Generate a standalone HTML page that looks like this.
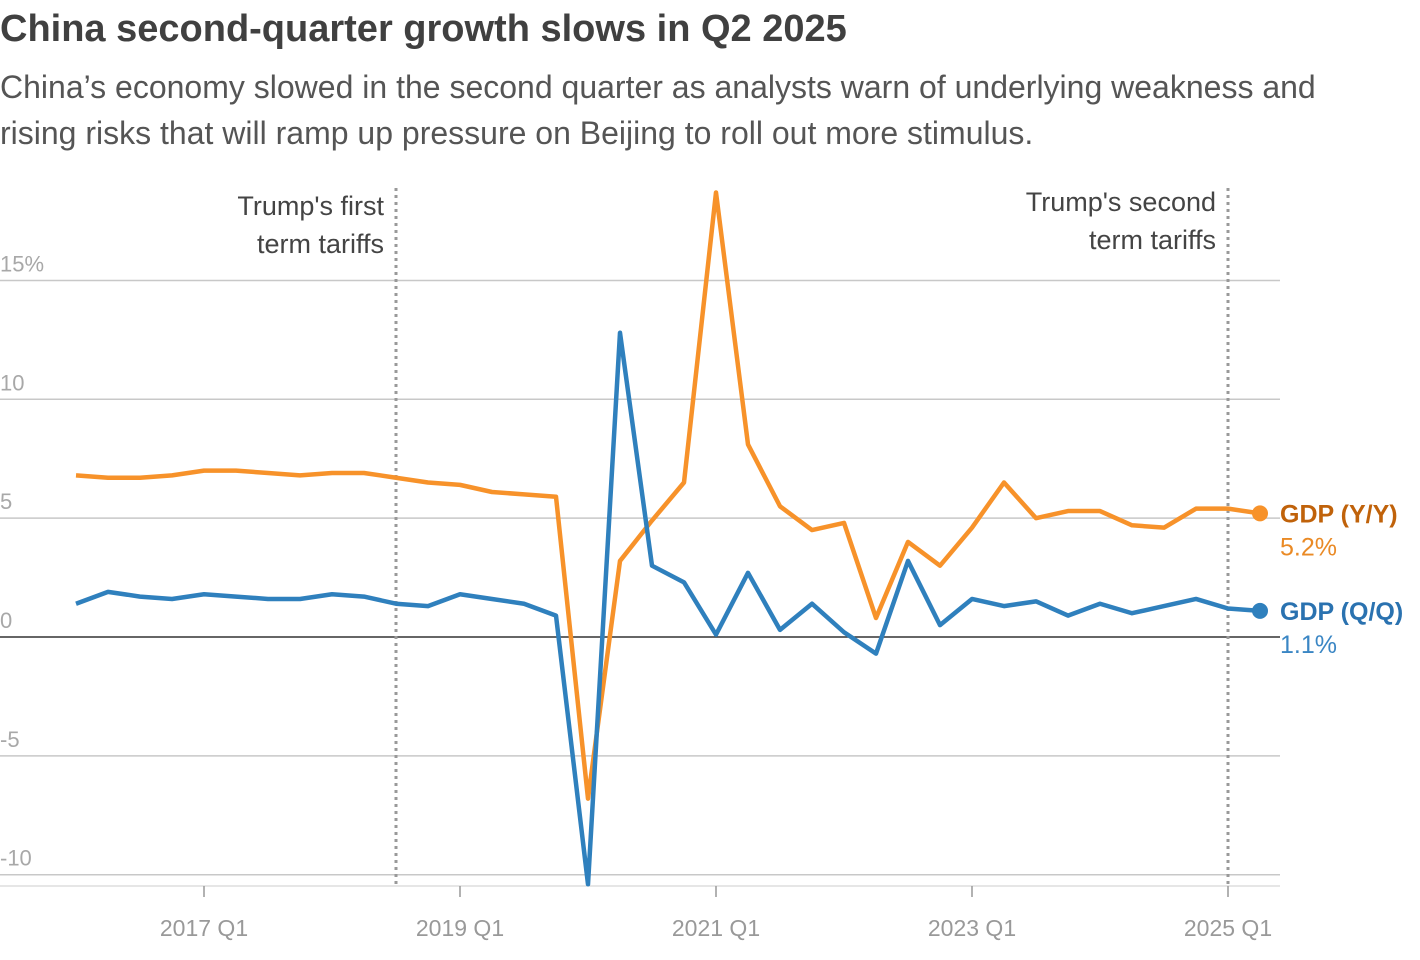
<!DOCTYPE html>
<html><head><meta charset="utf-8"><style>
body{margin:0;background:#fff;font-family:"Liberation Sans",sans-serif;}
#wrap{position:relative;width:1420px;height:960px;overflow:hidden;}
.t{position:absolute;white-space:nowrap;}
</style></head><body>
<div id="wrap">
<div class="t" style="left:0;top:8px;font-size:38px;font-weight:bold;color:#404040;">China second-quarter growth slows in Q2 2025</div>
<div class="t" style="left:0;top:64px;font-size:32px;line-height:46px;color:#555;">China’s economy slowed in the second quarter as analysts warn of underlying weakness and<br>rising risks that will ramp up pressure on Beijing to roll out more stimulus.</div>
<svg id="chart" width="1420" height="960" style="position:absolute;left:0;top:0"></svg>
</div>
<script>
const years=[2016,2017,2018,2019,2020,2021,2022,2023,2024,2025];
const yoy=[6.8,6.7,6.7,6.8, 7.0,7.0,6.9,6.8, 6.9,6.9,6.7,6.5, 6.4,6.1,6.0,5.9, -6.8,3.2,4.9,6.5, 18.7,8.1,5.5,4.5, 4.8,0.8,4.0,3.0, 4.6,6.5,5.0,5.3, 5.3,4.7,4.6,5.4, 5.4,5.2];
const qoq=[1.4,1.9,1.7,1.6, 1.8,1.7,1.6,1.6, 1.8,1.7,1.4,1.3, 1.8,1.6,1.4,0.9, -10.4,12.8,3.0,2.3, 0.1,2.7,0.3,1.4, 0.2,-0.7,3.2,0.5, 1.6,1.3,1.5,0.9, 1.4,1.0,1.3,1.6, 1.2,1.1];
const yTicks=[15,10,5,0,-5,-10];
const yTickLabels=["15%","10","5","0","-5","-10"];
const xTickYears=[2017,2019,2021,2023,2025];
const svg=document.getElementById('chart');
const NS='http://www.w3.org/2000/svg';
const x=i=>76+i*(1260-76)/37;
const xq=(yr,q)=>x((yr-2016)*4+(q-1));
const y=v=>637-v*23.77;
function mk(t,a,p){const e=document.createElementNS(NS,t);for(const k in a)e.setAttribute(k,a[k]);(p||svg).appendChild(e);return e;}
yTicks.forEach((v,i)=>{
 if(v!==0){const g=mk('line',{x1:0,x2:1280,y1:y(v),y2:y(v),stroke:'#c8c8c8','stroke-width':1.5});
 
 }
 const t=mk('text',{x:0,y:y(v)-9,'font-size':22,fill:'#a8a8a8','font-family':'Liberation Sans'});
 t.textContent=yTickLabels[i];
 
 
});
const ax=mk('line',{x1:0,x2:1280,y1:y(0),y2:y(0),stroke:'#333','stroke-width':1.5});


const xa=mk('line',{x1:0,x2:1280,y1:886,y2:886,stroke:'#ccc','stroke-width':1});


xTickYears.forEach(yr=>{
 const px=xq(yr,1);
 const tk=mk('line',{x1:px,x2:px,y1:886,y2:897,stroke:'#999','stroke-width':1.5});
 
 
 const t=mk('text',{x:px,y:936,'font-size':23,fill:'#999','text-anchor':'middle','font-family':'Liberation Sans'});
 t.textContent=yr+' Q1';
 
 
});
[[xq(2018,3),["Trump's first","term tariffs"],215,'annotation-first-term'],[xq(2025,1),["Trump's second","term tariffs"],211,'annotation-second-term']].forEach(a=>{
 const l=mk('line',{x1:a[0],x2:a[0],y1:188,y2:886,stroke:'#999','stroke-width':3,'stroke-dasharray':'3,4'});
 
 
 a[1].forEach((s,j)=>{const t=mk('text',{x:a[0]-12,y:a[2]+j*38,'font-size':27,fill:'#444','text-anchor':'end','font-family':'Liberation Sans'});
 t.textContent=s;
 
 });
});
function series(data,col,name){
 const p=mk('polyline',{points:data.map((v,i)=>x(i)+','+y(v)).join(' '),fill:'none',stroke:col,'stroke-width':4.5,'stroke-linejoin':'round'});
 
 
 const c=mk('circle',{cx:x(data.length-1),cy:y(data[data.length-1]),r:8,fill:col});
 
 
}
series(yoy,'#f7922a','gdp-yoy');
series(qoq,'#2f80bd','gdp-qoq');
function lbl(txt,v,dy,col,bold,name){const t=mk('text',{x:1280,y:y(v)+dy,'font-size':25,fill:col,'font-weight':bold?'bold':'normal','font-family':'Liberation Sans'});
 t.textContent=txt;
 
 }
lbl('GDP (Y/Y)',yoy[yoy.length-1],9,'#c0620a',true,'legend-gdp-yoy');
lbl(yoy[yoy.length-1].toFixed(1)+'%',yoy[yoy.length-1],42,'#ea8a25',false,'value-gdp-yoy');
lbl('GDP (Q/Q)',qoq[qoq.length-1],9,'#2a72b0',true,'legend-gdp-qoq');
lbl(qoq[qoq.length-1].toFixed(1)+'%',qoq[qoq.length-1],42,'#3a86c4',false,'value-gdp-qoq');
</script>
</body></html>
